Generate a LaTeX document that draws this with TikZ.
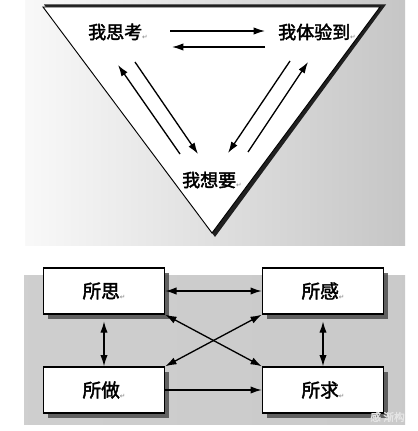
\documentclass[tikz,border=0pt]{standalone}
\usepackage{fontspec}
\newfontfamily\cjk[FakeBold=2.2]{Noto Sans CJK SC}
\newfontfamily\symb{DejaVu Sans}
\usetikzlibrary{arrows.meta,shadows}
\newcommand{\pmark}{\textcolor{gray}{\symb\fontsize{5}{5}\selectfont\raisebox{-0.3ex}{↵}}}
\begin{document}
\begin{tikzpicture}[x=0.75pt,y=-0.75pt,every node/.style={font=\cjk\fontsize{13.5}{15}\selectfont},
  pair/.style={-{Latex[length=8.5pt,width=5.5pt]},line width=1pt},
  both/.style={{Latex[length=8.5pt,width=5.5pt]}-{Latex[length=8.5pt,width=5.5pt]},line width=1pt},
  box/.style={draw,fill=white,line width=1pt,minimum width=90.75pt,minimum height=34.5pt,
    font=\cjk\fontsize{14}{16}\selectfont,
    drop shadow={shadow xshift=3.5pt,shadow yshift=-3.5pt,fill=gray!55!black,opacity=0.8}}]
\useasboundingbox (0,0) rectangle (417,431);
\fill[white] (0,0) rectangle (417,431);
\fill[left color=gray!5,right color=gray!45] (25,0) rectangle (405,245);
\fill[left color=gray!38,middle color=gray!25,right color=gray!42] (24,275) rectangle (405,424);
% triangle
\fill[gray!25!black] (44,4.5) -- (386,4.5) -- (215,237) -- cycle;
\draw[fill=white,line width=0.7pt] (43,7) -- (380,7) -- (212,233) -- cycle;
\node (tk) at (118,32) {我思考\pmark};
\node (ty) at (317,32) {我体验到\pmark};
\node (tx) at (212,180) {我想要\pmark};
\draw[pair] ([shift={(52,-1)}]tk.center) -- ([shift={(-52,-1)}]ty.center);
\draw[pair] ([shift={(-52,15)}]ty.center) -- ([shift={(54,15)}]tk.center);
\draw[pair] ([shift={(-32,-26)}]tx.center) -- ([shift={(0,33)}]tk.center);
\draw[pair] ([shift={(17,30)}]tk.center) -- ([shift={(-14,-26)}]tx.center);
\draw[pair] ([shift={(-27,29)}]ty.center) -- ([shift={(16,-27)}]tx.center);
\draw[pair] ([shift={(36,-28)}]tx.center) -- ([shift={(-9,30)}]ty.center);
% boxes
\node[box] (ss) at (104,291) {所思\pmark};
\node[box] (sg) at (323,291) {所感\pmark};
\node[box] (sz) at (104,390) {所做\pmark};
\node[box] (sq) at (323,390) {所求\pmark};
\draw[both] (ss.east) -- (sg.west);
\draw[both,shorten <=5pt] (ss.south) -- (sz.north);
\draw[both,shorten <=5pt] (sg.south) -- (sq.north);
\draw[both] (ss.south east) -- (sq.north west);
\draw[both] (sz.north east) -- (sg.south west);
\draw[pair] (sz.east) -- (sq.west);
\node[font=\cjk\fontsize{8}{9}\selectfont,text=gray!20,anchor=east,inner sep=0pt] (wm) at (405,417) {感 渐构};
\end{tikzpicture}
\end{document}
